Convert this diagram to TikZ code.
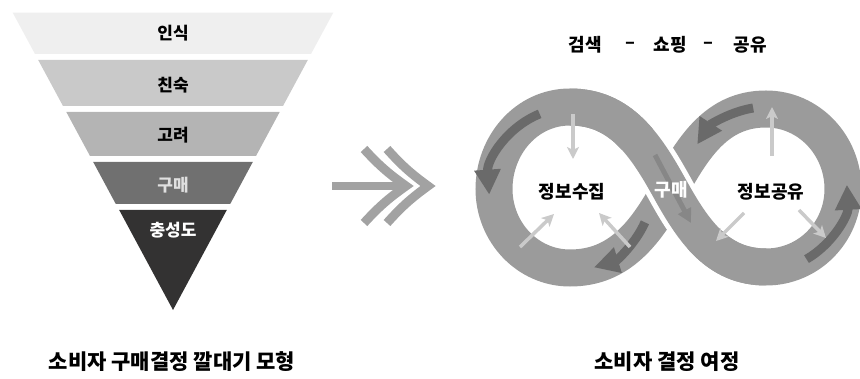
\documentclass[tikz,border=0pt]{standalone}
\usepackage{fontspec}
\setmainfont{Noto Sans CJK KR}
\usetikzlibrary{arrows.meta}
\definecolor{fa}{HTML}{EFEFEF}
\definecolor{fb}{HTML}{C9C9C9}
\definecolor{fc}{HTML}{B4B4B4}
\definecolor{fd}{HTML}{707070}
\definecolor{fe}{HTML}{333232}
\definecolor{bandc}{HTML}{9B9B9B}
\definecolor{darkarr}{HTML}{6A6A6A}
\definecolor{midarr}{HTML}{878787}
\definecolor{lightarr}{HTML}{CACACA}
\definecolor{chev}{HTML}{A2A2A2}
\begin{document}
\begin{tikzpicture}[x=1pt,y=1pt,
  flbl/.style={font=\fontsize{17}{20}\selectfont\bfseries, inner sep=0pt},
  ilbl/.style={font=\fontsize{18}{21}\selectfont\bfseries, inner sep=0pt},
  captext/.style={font=\fontsize{21}{24}\selectfont\bfseries, inner sep=0pt},
  bandline/.style={line width=37pt, bandc},
  gapline/.style={line width=47pt, white},
  darkarrow/.style={line width=9pt, darkarr, -{Triangle[width=25pt,length=25pt]}},
  lightarrow/.style={line width=3.5pt, lightarr, -{Stealth[width=12pt,length=12pt,inset=3pt]}},
  chevline/.style={line width=9pt, chev}]
\useasboundingbox (0,0) rectangle (860,378);
% ---------- funnel ----------
\fill[fa] (12.7,365.3) -- (333.3,365.3) -- (311,324) -- (35,324) -- cycle;
\fill[fb] (38.2,318) -- (307.8,318) -- (283,272) -- (63,272) -- cycle;
\fill[fc] (66.3,266) -- (279.7,266) -- (256,222) -- (90,222) -- cycle;
\fill[fd] (93.2,216) -- (252.8,216) -- (230.2,174) -- (115.8,174) -- cycle;
\fill[fe] (119.2,168) -- (226.8,168) -- (173,68) -- cycle;
\node[flbl] (f1) at (173,345) {인식};
\node[flbl] (f2) at (173,293) {친숙};
\node[flbl] (f3) at (173,243) {고려};
\node[flbl, text=white!88!black] (f4) at (173,193) {구매};
\node[flbl, text=white] (f5) at (173,148) {충성도};
\node[captext] (cap1) at (172,16) {소비자 구매결정 깔대기 모형};
% ---------- double arrow ----------
\coordinate (barA) at (332,192);
\coordinate (barB) at (401,192);
\draw[chevline, line width=8pt] (barA) -- (barB);
\coordinate (c1t) at (364,229);
\coordinate (c1p) at (406,192);
\coordinate (c1b) at (364,155);
\coordinate (c2t) at (387,229);
\coordinate (c2p) at (428,192);
\coordinate (c2b) at (387,155);
\draw[chevline, miter limit=10] (c1t) to[bend right=6] (c1p) to[bend right=6] (c1b);
\draw[chevline, miter limit=10] (c2t) to[bend right=6] (c2p) to[bend right=6] (c2b);
% ---------- infinity ----------
\coordinate (C) at (670,189);
\coordinate (LT) at (570,271);
\coordinate (LL) at (494,189);
\coordinate (LB) at (570,110);
\coordinate (RT) at (766,269);
\coordinate (RR) at (843,189);
\coordinate (RB) at (766,111);
\draw[bandline] (C) to[out=-61,in=180] (RB) to[out=0,in=-90] (RR) to[out=90,in=0] (RT)
  to[out=180,in=61] (C) to[out=241,in=0] (LB) to[out=180,in=-90] (LL)
  to[out=90,in=180] (LT) to[out=0,in=119] (C);
\begin{scope}
  \clip (C) circle[radius=62];
  \draw[gapline] (LT) to[out=0,in=119] (C) to[out=-61,in=180] (RB);
\end{scope}
\draw[bandline] (LT) to[out=0,in=119] (C) to[out=-61,in=180] (RB);
% dark arrows
\coordinate (LC) at (570,189);
\coordinate (RC) at (766,189);
\draw[darkarrow] (LC) ++(112:81) arc[start angle=112, end angle=184, radius=81];
\draw[darkarrow] (LC) ++(-24:82) arc[start angle=-24, end angle=-73, radius=82];
\draw[darkarrow] (RC) ++(99:82) arc[start angle=99, end angle=147, radius=82];
\draw[darkarrow] (RC) ++(-60:81) arc[start angle=-60, end angle=3, radius=81];
\coordinate (mA) at (655,223);
\coordinate (mB) at (691,155);
\draw[line width=5pt, midarr, -{Triangle[width=14pt,length=14pt]}] (mA) -- (mB);
% light arrows
\coordinate (aA) at (573,264); \coordinate (aB) at (573,219);
\coordinate (bA) at (520,131); \coordinate (bB) at (554,164);
\coordinate (cA) at (630,131); \coordinate (cB) at (599,165);
\coordinate (dA) at (772,222); \coordinate (dB) at (772,271);
\coordinate (eA) at (744,165); \coordinate (eB) at (716,137);
\coordinate (gA) at (799,168); \coordinate (gB) at (826,140);
\draw[lightarrow] (aA) -- (aB);
\draw[lightarrow] (bA) -- (bB);
\draw[lightarrow] (cA) -- (cB);
\draw[lightarrow] (dA) -- (dB);
\draw[lightarrow] (eA) -- (eB);
\draw[lightarrow] (gA) -- (gB);
% labels
\node[ilbl] (n1) at (572,186) {정보수집};
\node[ilbl, text=white] (n2) at (671,188) {구매};
\node[ilbl] (n3) at (771,186) {정보공유};
\node[ilbl] (t1) at (585,333) {검색};
\node[ilbl] (t2) at (630,333) {–};
\node[ilbl] (t3) at (670,333) {쇼핑};
\node[ilbl] (t4) at (708,333) {–};
\node[ilbl] (t5) at (750,333) {공유};
\node[captext] (cap2) at (667,16) {소비자 결정 여정};
\end{tikzpicture}
\end{document}
